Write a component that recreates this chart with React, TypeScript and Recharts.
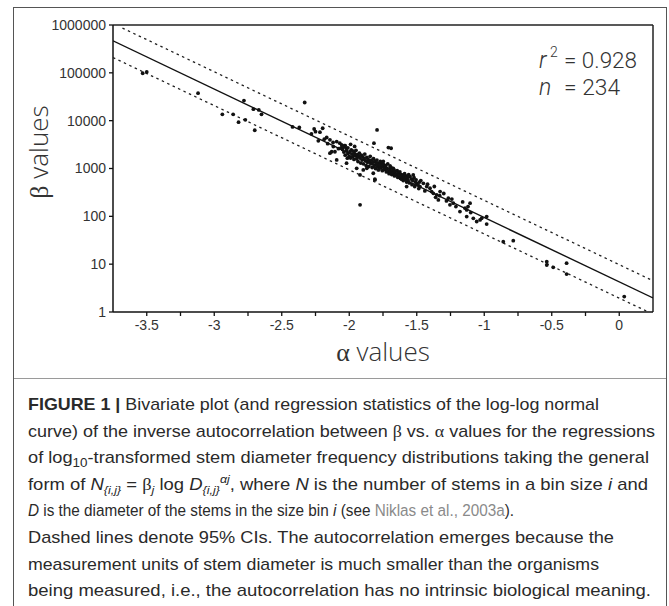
import React from 'react';
import { ScatterChart, Scatter, XAxis, YAxis, ReferenceLine, Label } from 'recharts';

// ---- data (alpha on x, beta on log y) ----
const upperLeftAlpha = [-3.53, -3.5, -3.12, -2.94, -2.86, -2.82, -2.77, -2.78, -2.7, -2.71, -2.67, -2.65, -2.42, -2.37, -2.33, -2.28, -2.26, -2.25];
const upperLeftBeta = [98000, 104000, 37600, 13600, 13600, 9300, 10400, 26300, 6300, 17400, 16800, 13600, 7400, 7200, 24000, 5300, 6700, 5900];

const clusterHeadAlpha = [-2.217, -2.197, -2.229, -2.167, -2.143, -2.118, -2.13, -2.093, -2.07, -2.056, -2.143, -2.106, -2.093, -2.02, -2.014, -2.02, -2.185, -2.16, -2.12, -2.08, -2.06, -2.035, -1.794, -1.817, -1.71, -1.69, -1.92];
const clusterHeadBeta = [5740, 6940, 3790, 4450, 3980, 2880, 2240, 3650, 3380, 3100, 2090, 2240, 1510, 1290, 1640, 2640, 4100, 3300, 3500, 2600, 2700, 3000, 6400, 3380, 2740, 2650, 174];

const denseAlpha = [-2.05, -2.04, -2.04, -2.03, -2.02, -2.01, -2.01, -2.0, -1.995, -1.99, -1.985, -1.98, -1.975, -1.97, -1.965, -1.96, -1.955, -1.95, -1.945, -1.94, -1.935, -1.93, -1.925, -1.92, -1.915, -1.91, -1.905, -1.9, -1.895, -1.89, -1.885, -1.88, -1.875, -1.87, -1.865, -1.86, -1.855, -1.85, -1.845, -1.84, -1.835, -1.83, -1.825, -1.82, -1.815, -1.81, -1.805, -1.8, -1.795, -1.79, -1.785, -1.78, -1.775, -1.77, -1.765, -1.76, -1.755, -1.75, -1.745, -1.74, -1.945, -1.92, -1.896, -1.87, -1.822, -1.81, -1.785, -1.81, -2.03, -1.99, -1.96];
const denseBeta = [2500, 2200, 2800, 1900, 2350, 2050, 2700, 1800, 2250, 1650, 2450, 2000, 1750, 2300, 1550, 2050, 1850, 2400, 1600, 1950, 1400, 1800, 2100, 1650, 1300, 1900, 1500, 1750, 1250, 1600, 2000, 1450, 1150, 1700, 1350, 1550, 1100, 1400, 1800, 1250, 1500, 1050, 1350, 1600, 1150, 1400, 1000, 1250, 1500, 1100, 1300, 950, 1150, 1400, 1050, 1250, 900, 1100, 1200, 950, 1010, 735, 935, 1010, 795, 597, 935, 577, 3000, 3200, 2900];

const midAlpha = [-1.797, -1.772, -1.748, -1.735, -1.73, -1.725, -1.72, -1.715, -1.71, -1.705, -1.7, -1.698, -1.695, -1.69, -1.685, -1.68, -1.675, -1.674, -1.67, -1.665, -1.661, -1.66, -1.65, -1.645, -1.64, -1.637, -1.635, -1.63, -1.625, -1.62, -1.615, -1.612, -1.61, -1.6, -1.6, -1.595, -1.59, -1.585, -1.58, -1.575, -1.575, -1.57, -1.565, -1.56, -1.555, -1.55, -1.54, -1.535, -1.53, -1.526, -1.52, -1.515, -1.51, -1.505, -1.5, -1.49, -1.485, -1.48];
const midBeta = [1290, 1190, 1400, 1010, 1150, 850, 1000, 1250, 861, 780, 980, 1130, 860, 1050, 750, 900, 820, 1010, 950, 700, 771, 870, 760, 900, 650, 676, 800, 720, 850, 620, 740, 597, 680, 560, 735, 650, 780, 600, 700, 520, 418, 640, 570, 740, 500, 676, 600, 460, 560, 735, 640, 420, 520, 580, 491, 450, 380, 520];

const tailAlpha = [-1.476, -1.47, -1.451, -1.44, -1.426, -1.42, -1.402, -1.39, -1.377, -1.37, -1.36, -1.352, -1.34, -1.33, -1.327, -1.3, -1.28, -1.266, -1.254, -1.24, -1.229, -1.21, -1.18, -1.16, -1.142, -1.13, -1.13, -1.12, -1.105, -1.1, -1.081, -1.056, -1.031, -1.019, -0.982, -0.982, -0.859, -0.785, -0.537, -0.537, -0.489, -0.39, -0.39, 0.037];
const tailBeta = [418, 560, 491, 340, 418, 470, 386, 330, 303, 420, 250, 281, 220, 270, 329, 300, 210, 240, 174, 230, 188, 160, 126, 200, 148, 136, 99, 160, 188, 120, 91, 78, 84, 91, 99, 69, 29.5, 31, 11.3, 9.6, 8.6, 10.5, 6.2, 2.1];

// fitted line and 95% CI bands (end points)
const regressionAlpha = [-3.75, 0.25];
const regressionBeta = [467000, 1.97];
const upperCiAlpha = [-3.68, 0.25];
const upperCiBeta = [863000, 4.5];
const lowerCiAlpha = [-3.75, 0.2];
const lowerCiBeta = [209000, 1.05];

const xTicks = [-3.5, -3.25, -3, -2.75, -2.5, -2.25, -2, -1.75, -1.5, -1.25, -1, -0.75, -0.5, -0.25, 0];
const xLabelled = [-3.5, -3, -2.5, -2, -1.5, -1, -0.5, 0];
const yTicks = [1, 10, 100, 1000, 10000, 100000, 1000000];

const zip = (a: number[], b: number[]) => a.map((v, i) => ({ a: v, b: b[i] }));
const points = [
  ...zip(upperLeftAlpha, upperLeftBeta),
  ...zip(clusterHeadAlpha, clusterHeadBeta),
  ...zip(denseAlpha, denseBeta),
  ...zip(midAlpha, midBeta),
  ...zip(tailAlpha, tailBeta),
];
const regression = zip(regressionAlpha, regressionBeta);
const upperCi = zip(upperCiAlpha, upperCiBeta);
const lowerCi = zip(lowerCiAlpha, lowerCiBeta);

const dot = (p: any) => <circle cx={p.cx} cy={p.cy} r={1.9} fill="#111" />;
const none = () => <g />;

const greek = { fontFamily: '"Liberation Serif", serif' };
const labelFont = '"Open Sans", "DejaVu Sans", sans-serif';
const statFont = 'Roboto, "Liberation Sans", sans-serif';
const capFont = '"Liberation Sans", Arial, sans-serif';

const fmtX = (v: number) => (xLabelled.includes(v) ? String(v) : '');

const YLabel = () => (
  <text x={48} y={152} transform="rotate(-90 48 152)" textAnchor="middle" fontSize={26} fontWeight={300} fill="#333" fontFamily={labelFont}>
    <tspan style={greek}>β</tspan> values
  </text>
);
const XLabel = () => (
  <text x={383} y={361} textAnchor="middle" fontSize={26} fontWeight={300} fill="#333" fontFamily={labelFont}>
    <tspan style={greek}>α</tspan> values
  </text>
);

// w: target width via textLength; sx: horizontal scale used instead (for the short line)
const captionLines: { w?: number; sx?: number; node: React.ReactNode }[] = [
  { w: 571, node: <><tspan fontWeight="bold">FIGURE 1 | </tspan>Bivariate plot (and regression statistics of the log-log normal</> },
  { w: 627, node: <>curve) of the inverse autocorrelation between <tspan style={greek}>β</tspan> vs. <tspan style={greek}>α</tspan> values for the regressions</> },
  { w: 621, node: <>of log<tspan baselineShift="-4" fontSize="12.5">10</tspan>-transformed stem diameter frequency distributions taking the general</> },
  { w: 620, node: <>form of <tspan fontStyle="italic">N</tspan><tspan baselineShift="-4" fontSize="11.5" fontStyle="italic">{'{i,j}'}</tspan> = <tspan style={greek}>β</tspan><tspan baselineShift="-4" fontSize="11.5" fontStyle="italic">j</tspan> log <tspan fontStyle="italic">D</tspan><tspan baselineShift="-4" fontSize="11.5" fontStyle="italic">{'{i,j}'}</tspan><tspan baselineShift="7" fontSize="11.5" fontStyle="italic">αj</tspan>, where <tspan fontStyle="italic">N</tspan> is the number of stems in a bin size <tspan fontStyle="italic">i</tspan> and</> },
  { sx: 0.9, node: <><tspan fontStyle="italic">D</tspan> is the diameter of the stems in the size bin <tspan fontStyle="italic">i</tspan> (see <tspan fill="#8a8a8a">Niklas et al., 2003a</tspan>).</> },
  { w: 586, node: <>Dashed lines denote 95% CIs. The autocorrelation emerges because the</> },
  { w: 571, node: <>measurement units of stem diameter is much smaller than the organisms</> },
  { w: 623, node: <>being measured, i.e., the autocorrelation has no intrinsic biological meaning.</> },
];

export default function App() {
  return (
    <div style={{ position: 'absolute', left: 0, top: 0, width: 669, height: 606, overflow: 'hidden', background: '#fff' }}>
      <div style={{ position: 'absolute', left: 13, top: 7, width: 652, height: 640, border: '1.5px solid #555' }} />
      <div style={{ position: 'absolute', left: 14, top: 378, width: 652, height: 1, background: '#9a9a9a' }} />
      <div style={{ position: 'absolute', left: 0, top: 0 }}>
        <ScatterChart width={669} height={380} margin={{ top: 25, right: 16, bottom: 38, left: 0 }}>
          <XAxis
            dataKey="a"
            type="number"
            domain={[-3.75, 0.25]}
            ticks={xTicks}
            tickFormatter={fmtX}
            interval={0}
            height={30}
            allowDataOverflow
            tickSize={4}
            tickMargin={4}
            axisLine={{ stroke: '#111', strokeWidth: 1.5 }}
            tickLine={{ stroke: '#111', strokeWidth: 1.3 }}
            tick={{ fill: '#333', fontSize: 14, fontFamily: capFont }}
          >
            <Label content={XLabel} />
          </XAxis>
          <YAxis
            dataKey="b"
            type="number"
            scale="log"
            domain={[1, 1000000]}
            ticks={yTicks}
            interval={0}
            width={113}
            allowDataOverflow
            tickSize={4}
            tickMargin={3}
            axisLine={{ stroke: '#111', strokeWidth: 1.5 }}
            tickLine={{ stroke: '#111', strokeWidth: 1.3 }}
            tick={{ fill: '#333', fontSize: 14, fontFamily: capFont }}
          >
            <Label content={YLabel} />
          </YAxis>
          <ReferenceLine y={1000000} stroke="#222" strokeWidth={1.5} />
          <ReferenceLine x={0.25} stroke="#222" strokeWidth={1.5} />
          <Scatter data={upperCi} shape={none} line={{ stroke: '#222', strokeWidth: 1.3, strokeDasharray: '2.5 3.5' }} isAnimationActive={false} legendType="none" />
          <Scatter data={lowerCi} shape={none} line={{ stroke: '#222', strokeWidth: 1.3, strokeDasharray: '2.5 3.5' }} isAnimationActive={false} legendType="none" />
          <Scatter data={regression} shape={none} line={{ stroke: '#111', strokeWidth: 1.4 }} isAnimationActive={false} legendType="none" />
          <Scatter data={points} shape={dot} isAnimationActive={false} legendType="none" />
        </ScatterChart>
      </div>
      <svg width={669} height={606} style={{ position: 'absolute', left: 0, top: 0, pointerEvents: 'none' }}>
        <g fontFamily={statFont} fontWeight={300} fill="#333">
          <text x={539} y={68} fontSize={23} fontStyle="italic">r</text>
          <text x={550} y={57} fontSize={14}>2</text>
          <text x={564} y={68} fontSize={22} textLength={73} lengthAdjust="spacingAndGlyphs">= 0.928</text>
          <text x={539} y={95} fontSize={23} fontStyle="italic">n</text>
          <text x={564} y={95} fontSize={22} textLength={56} lengthAdjust="spacingAndGlyphs">= 234</text>
        </g>
        {captionLines.map((l, i) =>
          l.sx ? (
            <g key={i} transform={`translate(28 ${410 + i * 26.6}) scale(${l.sx} 1)`}>
              <text x={0} y={0} fontSize={17} fill="#2a2a2a" fontFamily={capFont}>
                {l.node}
              </text>
            </g>
          ) : (
            <text key={i} x={28} y={410 + i * 26.6} fontSize={17} fill="#2a2a2a" fontFamily={capFont} textLength={l.w} lengthAdjust="spacingAndGlyphs">
              {l.node}
            </text>
          )
        )}
      </svg>
    </div>
  );
}
